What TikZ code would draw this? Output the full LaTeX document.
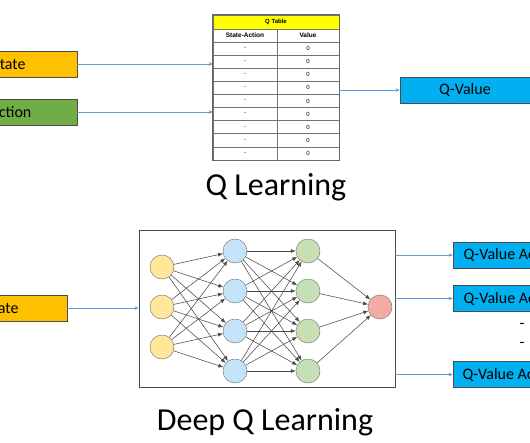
\documentclass[tikz,border=0pt]{standalone}
\usepackage{fontspec}
\setmainfont{Carlito}
\newfontfamily\tabfont{Liberation Sans}
\usetikzlibrary{arrows.meta, positioning, calc}
\definecolor{stateorange}{HTML}{FFC000}
\definecolor{actiongreen}{HTML}{70AD47}
\definecolor{qvalueblue}{HTML}{00B0F0}
\definecolor{linkblue}{HTML}{5B9BD5}
\definecolor{tableyellow}{HTML}{FFFF00}
\definecolor{inputyellow}{HTML}{FFE699}
\definecolor{hiddenblue}{HTML}{C5E3F6}
\definecolor{hiddengreen}{HTML}{C5E0B4}
\definecolor{outputpink}{HTML}{F4ABA4}

\begin{document}
\begin{tikzpicture}[x=1pt, y=-1pt,
  qbox/.style={draw=black!70, line width=0.6pt, minimum width=130pt, minimum height=26pt, inner sep=0pt, font=\fontsize{16}{16}\selectfont},
  link/.style={linkblue, line width=0.7pt, -{Stealth[length=4pt, width=3.5pt]}},
  cell/.style={draw=black!55, line width=0.5pt, minimum height=13.1pt, inner sep=0pt, font=\tabfont\fontsize{6}{6}\selectfont},
  neuron/.style={circle, draw=black!50, line width=0.5pt, minimum size=24pt, inner sep=0pt},
  synapse/.style={black!70, line width=0.55pt, -{Latex[length=5pt, width=4pt]}},
  title/.style={font=\fontsize{32}{32}\selectfont}]
  \useasboundingbox (0,0) rectangle (530,442);
  \clip (0,0) rectangle (530,442);
  \fill[white] (0,0) rectangle (530,442);

  % Q table
  \node[cell, fill=tableyellow, minimum width=126pt, minimum height=14pt, font=\tabfont\bfseries\fontsize{6}{6}\selectfont] (tabtitle) at (276, 22) {Q Table};
  \node[cell, minimum width=64pt, font=\tabfont\bfseries\fontsize{6.5}{6.5}\selectfont] (hdSA) at (245, 35.5) {State-Action};
  \node[cell, minimum width=62pt, font=\tabfont\bfseries\fontsize{6.5}{6.5}\selectfont] (hdV) at (308, 35.5) {Value};
  \foreach \i in {1,...,9} {
    \node[cell, minimum width=64pt] (sa\i) at (245, {42+13.1*(\i-0.5)}) {-};
    \node[cell, minimum width=62pt] (val\i) at (308, {42+13.1*(\i-0.5)}) {0};
  }
  \draw[black!60, line width=0.9pt] (tabtitle.north west) rectangle (val9.south east);

  \node[qbox, fill=stateorange, minimum width=136pt] (state) at (9, 64) {State};
  \node[qbox, fill=actiongreen, minimum width=133pt] (action) at (10.5, 112) {Action};
  \node[qbox, fill=qvalueblue] (qv) at (465, 90) {Q-Value};

  \draw[link] (state.east) -- (state.east -| sa1.west);
  \draw[link] (action.east) -- (action.east -| sa1.west);
  \draw[link] (qv.west -| val1.east) -- (qv.west);

  \node[title, anchor=base] (qtitle) at (276, 195) {Q Learning};

  % Deep Q network
  \node[draw=black!70, line width=0.8pt, minimum width=256pt, minimum height=157pt, inner sep=0pt] (nnbox) at (267, 308.5) {};
  \foreach \i/\y in {1/267, 2/307, 3/347}
    \node[neuron, fill=inputyellow] (in\i) at (162, \y) {};
  \foreach \j/\y in {1/251, 2/291, 3/331, 4/371} {
    \node[neuron, fill=hiddenblue] (hA\j) at (235, \y) {};
    \node[neuron, fill=hiddengreen] (hB\j) at (308, \y) {};
  }
  \node[neuron, fill=outputpink] (out) at (380, 307) {};

  \foreach \i in {1,2,3}
    \foreach \j in {1,...,4}
      \draw[synapse] (in\i) -- (hA\j);
  \foreach \i in {1,...,4}
    \foreach \j in {1,...,4}
      \draw[synapse] (hA\i) -- (hB\j);
  \foreach \j in {1,...,4}
    \draw[synapse] (hB\j) -- (out);

  \node[qbox, fill=stateorange] (stateB) at (2, 308) {State};
  \draw[link] (stateB.east) -- (stateB.east -| nnbox.west);

  \node[qbox, fill=qvalueblue] (qa1) at (518, 255) {Q-Value Action 1};
  \node[qbox, fill=qvalueblue] (qa2) at (518, 298.5) {Q-Value Action 2};
  \node[qbox, fill=qvalueblue] (qaN) at (518, 374.5) {Q-Value Action N};
  \node[font=\fontsize{16}{16}\selectfont] (dash1) at (522, 326) {-};
  \node[font=\fontsize{16}{16}\selectfont] (dash2) at (522, 345) {-};

  \draw[link] (qa1.west -| nnbox.east) -- (qa1.west);
  \draw[link] (qa2.west -| nnbox.east) -- (qa2.west);
  \draw[link] (qaN.west -| nnbox.east) -- (qaN.west);

  \node[title, anchor=base] (dqtitle) at (265, 430) {Deep Q Learning};
\end{tikzpicture}
\end{document}
